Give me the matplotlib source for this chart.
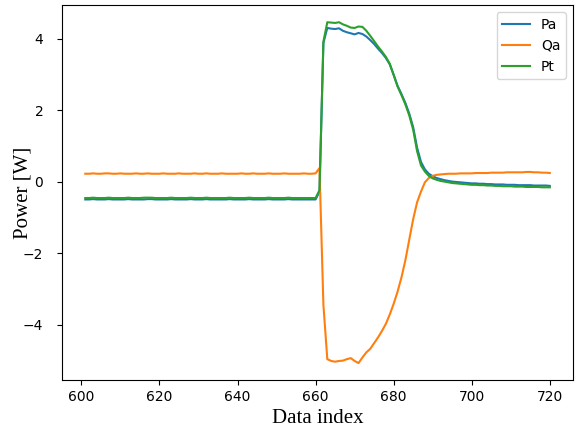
import matplotlib
matplotlib.use("Agg")
import matplotlib.pyplot as plt
import numpy as np

# data index 601..720
index = np.arange(601, 721)

# steady part 601-660 (60 samples)
pa_pre = [-0.50, -0.50, -0.49, -0.50, -0.50, -0.50, -0.49, -0.50, -0.50, -0.50,
          -0.50, -0.49, -0.50, -0.50, -0.50, -0.50, -0.49, -0.49, -0.50, -0.50,
          -0.50, -0.50, -0.49, -0.50, -0.50, -0.50, -0.50, -0.49, -0.50, -0.50,
          -0.50, -0.49, -0.50, -0.50, -0.50, -0.50, -0.50, -0.49, -0.50, -0.50,
          -0.50, -0.50, -0.49, -0.50, -0.50, -0.50, -0.50, -0.49, -0.50, -0.50,
          -0.50, -0.50, -0.49, -0.50, -0.50, -0.50, -0.50, -0.50, -0.50, -0.50]
qa_pre = [0.22, 0.22, 0.23, 0.22, 0.22, 0.23, 0.23, 0.22, 0.22, 0.23,
          0.22, 0.22, 0.22, 0.23, 0.22, 0.22, 0.23, 0.22, 0.22, 0.22,
          0.23, 0.22, 0.22, 0.22, 0.23, 0.22, 0.22, 0.22, 0.23, 0.22,
          0.22, 0.23, 0.22, 0.22, 0.22, 0.23, 0.22, 0.22, 0.22, 0.22,
          0.23, 0.22, 0.22, 0.23, 0.22, 0.22, 0.22, 0.23, 0.22, 0.22,
          0.22, 0.23, 0.22, 0.22, 0.22, 0.22, 0.23, 0.22, 0.22, 0.23]
pt_pre = [-0.46, -0.46, -0.45, -0.46, -0.46, -0.46, -0.45, -0.46, -0.46, -0.46,
          -0.46, -0.45, -0.46, -0.46, -0.46, -0.45, -0.45, -0.45, -0.46, -0.46,
          -0.46, -0.46, -0.45, -0.46, -0.46, -0.46, -0.46, -0.45, -0.46, -0.46,
          -0.46, -0.45, -0.46, -0.46, -0.46, -0.46, -0.46, -0.45, -0.46, -0.46,
          -0.46, -0.46, -0.45, -0.46, -0.46, -0.46, -0.46, -0.45, -0.46, -0.46,
          -0.46, -0.46, -0.45, -0.46, -0.46, -0.46, -0.46, -0.46, -0.46, -0.46]

# event 661-690 (30 samples)
pa_event = [-0.28, 3.88, 4.30, 4.28, 4.27, 4.29, 4.22, 4.18, 4.15, 4.12,
            4.16, 4.13, 4.06, 3.96, 3.85, 3.72, 3.60, 3.46, 3.28, 2.99,
            2.68, 2.45, 2.20, 1.90, 1.52, 0.95, 0.55, 0.34, 0.22, 0.15]
qa_event = [0.38, -3.45, -4.97, -5.02, -5.04, -5.02, -5.01, -4.97, -4.94, -5.02,
            -5.08, -4.92, -4.78, -4.68, -4.52, -4.36, -4.18, -3.98, -3.72, -3.42,
            -3.08, -2.68, -2.20, -1.62, -1.05, -0.58, -0.28, -0.02, 0.10, 0.16]
pt_event = [-0.24, 3.92, 4.46, 4.45, 4.44, 4.46, 4.40, 4.36, 4.31, 4.30,
            4.34, 4.33, 4.22, 4.08, 3.93, 3.78, 3.64, 3.49, 3.30, 2.98,
            2.66, 2.42, 2.16, 1.85, 1.45, 0.85, 0.45, 0.28, 0.16, 0.09]

# tail 691-720 (30 samples)
pa_post = [0.10, 0.07, 0.04, 0.02, 0.00, -0.01, -0.02, -0.03, -0.04, -0.05,
           -0.05, -0.06, -0.06, -0.07, -0.07, -0.08, -0.08, -0.08, -0.09, -0.09,
           -0.09, -0.10, -0.10, -0.10, -0.10, -0.11, -0.11, -0.11, -0.11, -0.12]
qa_post = [0.19, 0.20, 0.21, 0.22, 0.22, 0.22, 0.23, 0.23, 0.23, 0.23,
           0.24, 0.24, 0.24, 0.24, 0.25, 0.25, 0.25, 0.25, 0.26, 0.26,
           0.26, 0.26, 0.26, 0.27, 0.27, 0.26, 0.26, 0.25, 0.25, 0.24]
pt_post = [0.05, 0.02, 0.00, -0.02, -0.04, -0.05, -0.06, -0.07, -0.08, -0.09,
           -0.09, -0.10, -0.10, -0.11, -0.11, -0.12, -0.12, -0.13, -0.13, -0.13,
           -0.14, -0.14, -0.14, -0.15, -0.15, -0.15, -0.15, -0.16, -0.16, -0.16]

pa = np.array(pa_pre + pa_event + pa_post)
qa = np.array(qa_pre + qa_event + qa_post)
pt = np.array(pt_pre + pt_event + pt_post)

fig = plt.figure(figsize=(5.8, 4.32), dpi=100)
ax = fig.add_subplot(111)
fig.subplots_adjust(left=0.107, right=0.988, top=0.988, bottom=0.12)

ax.plot(index, pa, label="Pa")
ax.plot(index, qa, label="Qa")
ax.plot(index, pt, label="Pt")

ax.tick_params(axis="y", pad=10)
ax.set_xlabel("Data index", fontfamily="Liberation Serif", fontsize=15)
ax.set_ylabel("Power [W]", fontfamily="Liberation Serif", fontsize=15)
ax.yaxis.set_label_coords(-0.057, 0.5)
ax.legend(loc="upper right")

fig.savefig("out.png", dpi=100)
